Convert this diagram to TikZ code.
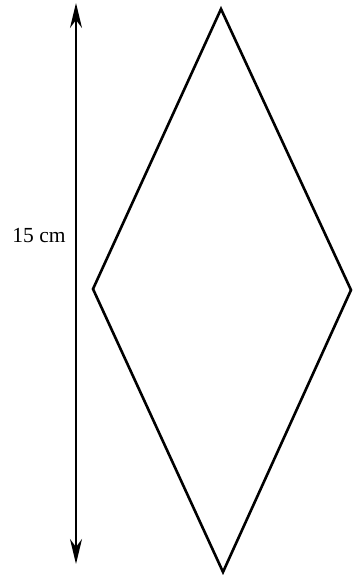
\documentclass[tikz,border=0pt]{standalone}
\usepackage{fontspec}
\setmainfont{Liberation Serif}
\usetikzlibrary{arrows.meta,positioning}

\begin{document}
\begin{tikzpicture}[
  x=1pt, y=-1pt,
  font=\fontsize{21.5}{24}\selectfont,
  edge/.style={line width=2.6pt, line join=miter},
  dim/.style={line width=2pt, {Stealth[length=25pt,width=12pt,inset=8pt]}-{Stealth[length=25pt,width=12pt,inset=8pt]}},
  >={Stealth[]}]
\useasboundingbox (0,0) rectangle (353,575);
% rhombus corners
\coordinate (top) at (221,9);
\coordinate (right) at (351,290);
\coordinate (bottom) at (223,572);
\coordinate (left) at (93,289);
\draw[edge] (top) -- (right) -- (bottom) -- (left) -- cycle;
% height
\coordinate (htop) at (76,3);
\coordinate (hbot) at (76,564);
\draw[dim] (htop) -- (hbot);
\node (hlabel) at (39,236) {15 cm};
\end{tikzpicture}
\end{document}
